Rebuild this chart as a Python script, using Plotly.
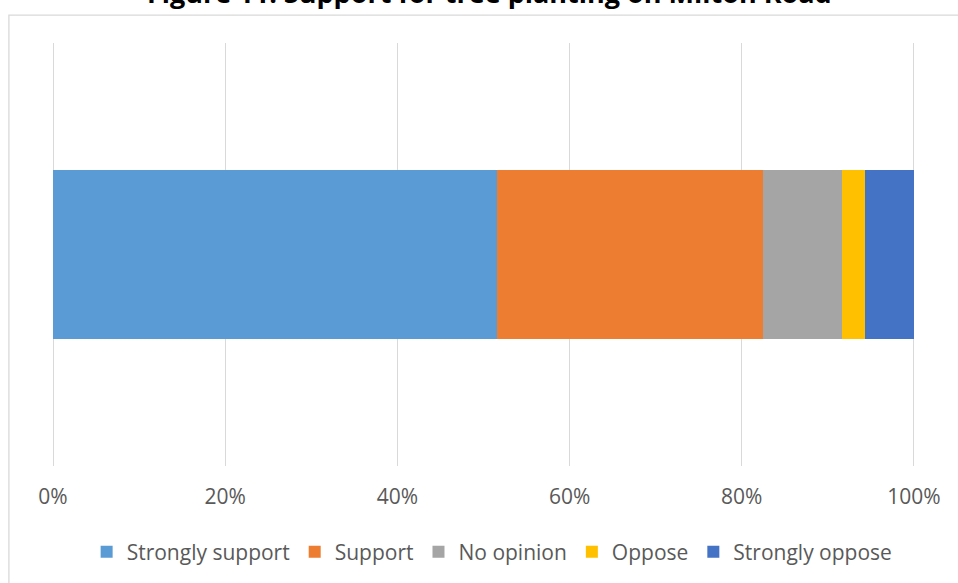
import plotly.graph_objects as go

# Survey responses (share of respondents, %)
categories = ["Strongly support", "Support", "No opinion", "Oppose", "Strongly oppose"]
shares = [51.6, 30.9, 9.1, 2.7, 5.7]
colors = ["#5B9BD5", "#ED7D31", "#A5A5A5", "#FFC000", "#4472C4"]
row_label = ["Milton Road"]
tick_values = [0, 0.2, 0.4, 0.6, 0.8, 1.0]
tick_text = ["0%", "20%", "40%", "60%", "80%", "100%"]

W, H = 958, 583
L, R, T, B = 53, 44, 43, 116
pw, ph = W - L - R, H - T - B
pad = 0.0012  # small range padding so the 0% and 100% gridlines are drawn

fig = go.Figure()
for name, val, col in zip(categories, shares, colors):
    fig.add_trace(go.Bar(
        x=[val / 100], y=row_label, name=name, orientation="h",
        marker=dict(color=col, line=dict(width=0)), width=0.4,
        hoverinfo="name+x",
    ))

font_family = "'Open Sans', Lato, sans-serif"

fig.update_layout(
    width=W, height=H,
    margin=dict(l=L - 1, r=R - 1, t=T, b=B),
    barmode="stack",
    paper_bgcolor="white", plot_bgcolor="white",
    font=dict(family=font_family, size=21, color="#595959"),
    showlegend=True,
    legend=dict(
        orientation="h", x=0.51, xanchor="center",
        y=-(552 - (T + ph)) / ph, yanchor="middle",
        font=dict(size=21, color="#595959"),
        traceorder="normal", itemwidth=30,
    ),
    xaxis=dict(
        range=[-pad, 1 + pad], tickvals=tick_values, ticktext=tick_text,
        showgrid=True, gridcolor="#D9D9D9", gridwidth=1.3,
        zeroline=False, showline=False, ticks="",
        ticklabelstandoff=16,
    ),
    yaxis=dict(
        range=[-0.5, 0.5], showticklabels=False, showgrid=False,
        zeroline=False, showline=False, ticks="",
    ),
    annotations=[dict(
        text="<b>Figure 11: Support for tree planting on Milton Road</b>",
        xref="paper", yref="paper", x=0.5, y=1, xanchor="center", yanchor="bottom",
        xshift=6, yshift=30, showarrow=False,
        font=dict(family=font_family, size=27, color="black"),
    )],
    shapes=[dict(
        type="rect", xref="paper", yref="paper", layer="below",
        x0=(10 - L) / pw, x1=(W + 20 - L) / pw,
        y0=-(H + 20 - T - ph) / ph, y1=1 + (T - 15) / ph,
        line=dict(color="#D9D9D9", width=1.3), fillcolor="rgba(0,0,0,0)",
    )],
)

fig.write_html("out.html")
